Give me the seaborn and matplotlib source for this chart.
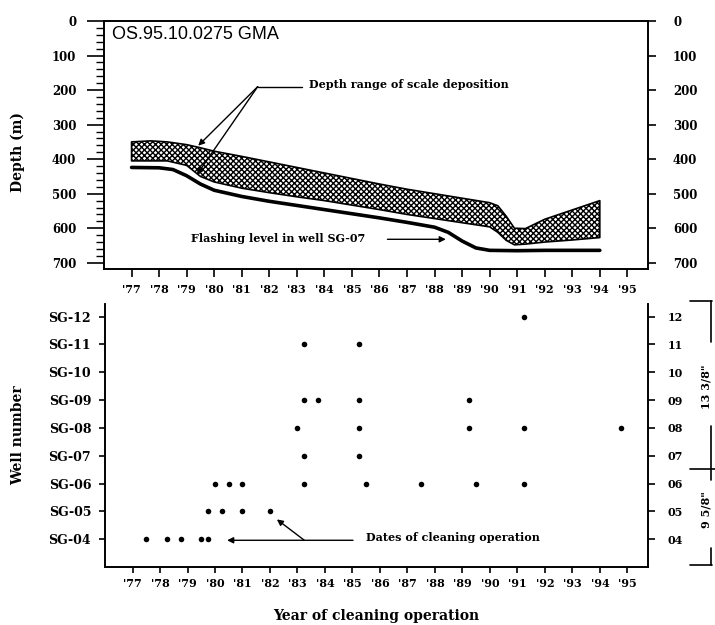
import matplotlib
matplotlib.use("Agg")
import matplotlib.pyplot as plt
import seaborn as sns
import pandas as pd

# ---- data ----
# scale deposition band (top panel)
band_years = [77.0, 77.7, 78.3, 79.0, 79.5, 80.0, 81.0, 82.0, 83.0, 84.0, 85.0, 86.0,
              87.0, 88.0, 89.0, 90.0, 90.3, 90.6, 90.9, 91.3, 92.0, 93.0, 94.0]
band_top = [350, 347, 350, 358, 367, 377, 392, 408, 424, 440, 456, 472,
            487, 500, 513, 526, 535, 565, 600, 601, 574, 547, 520]
band_bottom = [405, 405, 405, 418, 450, 466, 484, 497, 509, 520, 533, 546,
               560, 572, 584, 596, 612, 635, 648, 646, 640, 634, 627]

# flashing level in well SG-07
flash_years = [77.0, 78.0, 78.5, 79.0, 79.5, 80.0, 81.0, 82.0, 83.0, 84.0, 85.0, 86.0,
               87.0, 88.0, 88.5, 89.0, 89.5, 90.0, 91.0, 92.0, 93.0, 94.0]
flash_depth = [424, 425, 430, 448, 472, 490, 508, 522, 534, 546, 558, 570,
               583, 597, 612, 637, 657, 664, 665, 664, 664, 664]

# dates of cleaning operation per well
sg04 = [77.5, 78.25, 78.75, 79.5, 79.75]
sg05 = [79.75, 80.25, 81.0, 82.0]
sg06 = [80.0, 80.5, 81.0, 83.25, 85.5, 87.5, 89.5, 91.25]
sg07 = [83.25, 85.25]
sg08 = [83.0, 85.25, 89.25, 91.25, 94.75]
sg09 = [83.25, 83.75, 85.25, 89.25]
sg10 = []
sg11 = [83.25, 85.25]
sg12 = [91.25]

well_numbers = [4, 5, 6, 7, 8, 9, 10, 11, 12]
well_labels = ["SG-%02d" % w for w in well_numbers]
year_ticks = list(range(77, 96))
year_labels = ["'%d" % y for y in year_ticks]
depth_ticks = list(range(0, 800, 100))

rows = []
for w, yrs in zip(well_numbers, [sg04, sg05, sg06, sg07, sg08, sg09, sg10, sg11, sg12]):
    for y in yrs:
        rows.append({"year": y, "well": w})
cleaning = pd.DataFrame(rows)

# ---- style ----
sns.set_style("ticks")
plt.rcParams['font.family'] = ['DejaVu Serif']
plt.rcParams['font.weight'] = 'bold'
plt.rcParams['hatch.linewidth'] = 1.0
plt.rcParams['axes.linewidth'] = 1.2
for key in ['text.color', 'axes.labelcolor', 'axes.edgecolor', 'xtick.color', 'ytick.color']:
    plt.rcParams[key] = 'black'

fig = plt.figure(figsize=(7.15, 6.25), dpi=100)
ax1 = fig.add_axes([0.1455, 0.5696, 0.7608, 0.3968])
ax2 = fig.add_axes([0.1469, 0.0928, 0.7594, 0.4208])

# ================================
# Top panel: depth
# ================================
ax1.fill_between(band_years, band_top, band_bottom, facecolor="white",
                 edgecolor="black", hatch="xxxxxx", linewidth=1.2)
sns.lineplot(x=flash_years, y=flash_depth, ax=ax1, color="black", linewidth=2.6,
             estimator=None, sort=False)
ax1.set_xlim(76, 95.75)
ax1.set_ylim(718, 0)
ax1.set_yticks(depth_ticks)
ax1.set_yticks(range(0, 720, 20), minor=True)
ax1.set_yticklabels([str(d) for d in depth_ticks])
ax1.set_xticks(year_ticks)
ax1.set_xticklabels(year_labels)
ax1.tick_params(axis="y", which="major", direction="out", length=12, width=1.2,
                labelsize=8.5, pad=8)
ax1.tick_params(axis="y", which="minor", direction="out", length=6, width=1)
ax1.tick_params(axis="x", direction="out", length=6, width=1.2, labelsize=8, pad=5)
ax1.set_ylabel("Depth (m)", fontsize=10, fontweight="bold")
ax1.yaxis.set_label_coords(-0.145, 0.47)

ax1r = ax1.twinx()
ax1r.set_ylim(718, 0)
ax1r.set_yticks(depth_ticks)
ax1r.set_yticklabels([str(d) for d in depth_ticks])
ax1r.tick_params(axis="y", direction="out", length=6, width=1.2, labelsize=8.5, pad=12)

ax1.text(0.014, 0.944, "OS.95.10.0275 GMA", transform=ax1.transAxes,
         family="Liberation Sans", fontweight="normal", fontsize=13, va="center")

# depth range annotation
ax1.plot([81.58, 83.17], [190, 190], color="black", lw=1)
ax1.text(83.45, 183, "Depth range of scale deposition", fontsize=8, va="center")
for tx, ty in [(79.42, 361), (79.37, 445)]:
    ax1.annotate("", xy=(tx, ty), xytext=(81.58, 190),
                 arrowprops=dict(arrowstyle="-|>", color="black", lw=1,
                                 mutation_scale=9, shrinkA=0, shrinkB=0))

ax1.text(79.17, 629, "Flashing level in well SG-07", fontsize=8, va="center")
ax1.annotate("", xy=(88.41, 632), xytext=(86.29, 632),
             arrowprops=dict(arrowstyle="-|>", color="black", lw=1,
                             mutation_scale=9, shrinkA=0, shrinkB=0))

# ================================
# Bottom panel: cleaning dates
# ================================
sns.scatterplot(data=cleaning, x="year", y="well", ax=ax2, color="black", s=16,
                linewidth=0, legend=False)
ax2.set_xlim(76, 95.75)
ax2.set_ylim(3, 12.45)
ax2.spines["top"].set_visible(False)
ax2.set_yticks(well_numbers)
ax2.set_yticklabels(well_labels)
ax2.set_xticks(year_ticks)
ax2.set_xticklabels(year_labels)
ax2.tick_params(axis="y", direction="out", length=4, width=1.2, labelsize=9, pad=6)
ax2.tick_params(axis="x", direction="out", length=4, width=1.2, labelsize=8, pad=4)
ax2.set_xlabel("Year of cleaning operation", fontsize=10, fontweight="bold", labelpad=14)
ax2.set_ylabel("Well number", fontsize=10, fontweight="bold")
ax2.yaxis.set_label_coords(-0.147, 0.5)

ax2r = ax2.twinx()
ax2r.set_ylim(3, 12.45)
ax2r.spines["top"].set_visible(False)
ax2r.set_yticks(well_numbers)
ax2r.set_yticklabels(["%02d" % w for w in well_numbers])
ax2r.tick_params(axis="y", direction="out", length=5, width=1.2, labelsize=8, pad=9)

# dates annotation
arrow_kw = dict(arrowstyle="-|>", color="black", lw=1, mutation_scale=9,
                shrinkA=0, shrinkB=0)
ax2.annotate("", xy=(80.44, 3.96), xytext=(85.02, 3.96), arrowprops=arrow_kw)
ax2.annotate("", xy=(82.25, 4.71), xytext=(83.25, 3.96), arrowprops=arrow_kw)
ax2.text(85.51, 4.05, "Dates of cleaning operation", fontsize=8, va="center")

# casing bracket on the right
tr = ax2.get_yaxis_transform()
line_kw = dict(color="black", lw=1.2, transform=tr, clip_on=False)
ax2.plot([1.077, 1.118], [12.54, 12.54], **line_kw)
ax2.plot([1.077, 1.125], [6.53, 6.53], **line_kw)
ax2.plot([1.077, 1.118], [3.06, 3.06], **line_kw)
ax2.plot([1.116, 1.116], [12.54, 11.07], **line_kw)
ax2.plot([1.116, 1.116], [8.06, 6.13], **line_kw)
ax2.plot([1.116, 1.116], [3.67, 3.06], **line_kw)
ax2.text(1.106, 9.46, '13 3/8"', rotation=90, ha="center", va="center",
         fontsize=8, transform=tr)
ax2.text(1.106, 5.05, '9 5/8"', rotation=90, ha="center", va="center",
         fontsize=8, transform=tr)

plt.savefig("out.png", dpi=100)
